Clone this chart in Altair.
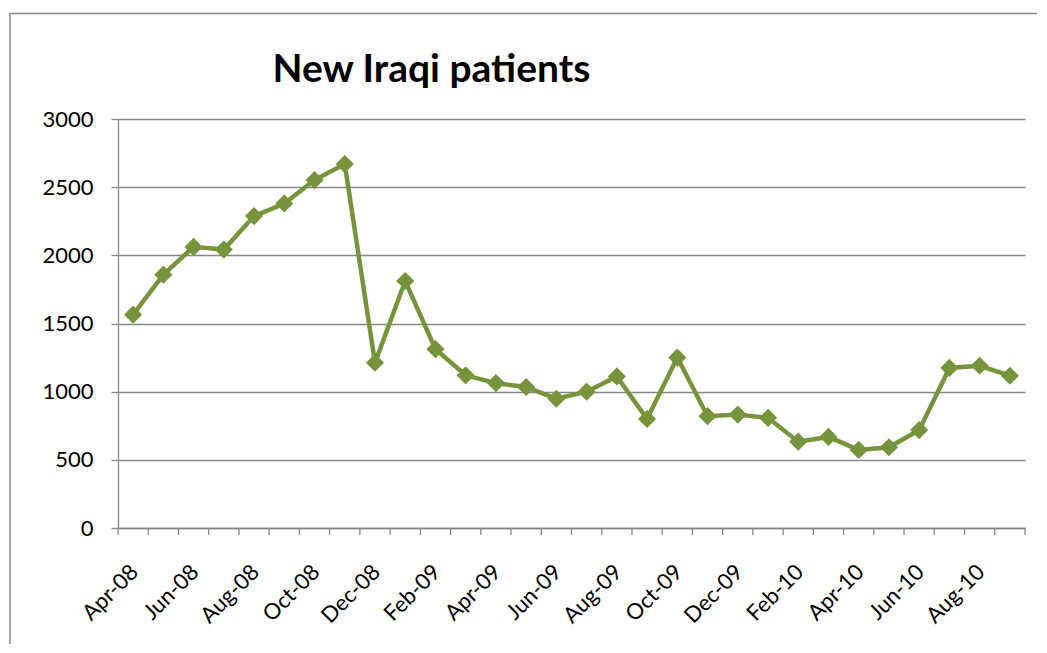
import json
import altair as alt
import pandas as pd

months = ["Apr-08", "May-08", "Jun-08", "Jul-08", "Aug-08", "Sep-08", "Oct-08", "Nov-08",
          "Dec-08", "Jan-09", "Feb-09", "Mar-09", "Apr-09", "May-09", "Jun-09", "Jul-09",
          "Aug-09", "Sep-09", "Oct-09", "Nov-09", "Dec-09", "Jan-10", "Feb-10", "Mar-10",
          "Apr-10", "May-10", "Jun-10", "Jul-10", "Aug-10", "Sep-10"]
patients = [1565, 1858, 2062, 2042, 2288, 2380, 2552, 2670, 1212, 1812, 1312, 1120, 1063,
            1034, 948, 1000, 1112, 800, 1250, 820, 832, 808, 633, 668, 573, 592, 718, 1174,
            1190, 1117]
y_ticks = [0, 500, 1000, 1500, 2000, 2500, 3000]
title_text = ["New Iraqi patients"]

n = len(months)
df = pd.DataFrame({"idx": list(range(n)), "month": months, "patients": patients})
bounds_df = pd.DataFrame({"b": [i - 0.5 for i in range(n + 1)]})

W, H = 907, 409
GREEN = "#77933C"
GRAY = "#868686"
FONT = "Lato"

month_js = json.dumps(months)
label_expr = (
    f"(datum.value + 0.5) < {n} && ((datum.value + 0.5) % 2) == 0 ? "
    f"{month_js}[datum.value + 0.5] : ''"
)
x_scale = alt.Scale(domain=[-0.5, n - 0.5], nice=False, zero=False)

x_enc = alt.X(
    "idx:Q",
    scale=x_scale,
    axis=alt.Axis(
        values=[i - 0.5 for i in range(n + 1)],
        labelExpr=label_expr,
        labelAngle=-45,
        labelAlign="right",
        labelBaseline="middle",
        labelOffset=W / n / 2 + 1,
        labelPadding=33,
        labelOverlap=False,
        labelBound=False,
        labelFlush=False,
        labelFont=FONT,
        labelFontSize=22,
        labelColor="black",
        tickSize=7,
        tickOpacity=0,
        domainColor=GRAY,
        domainWidth=1.3,
        grid=False,
        title=None,
    ),
)
y_enc = alt.Y(
    "patients:Q",
    scale=alt.Scale(domain=[0, 3000], nice=False),
    axis=alt.Axis(
        values=y_ticks,
        format="d",
        labelFont=FONT,
        labelFontSize=22,
        labelColor="black",
        labelPadding=18,
        tickSize=7,
        tickColor=GRAY,
        tickWidth=1.3,
        domainColor=GRAY,
        domainWidth=1.3,
        grid=True,
        gridColor=GRAY,
        gridWidth=1.3,
        title=None,
    ),
)

base = alt.Chart(df)
line = base.mark_line(color=GREEN, strokeWidth=4.5).encode(x=x_enc, y=y_enc)
points = base.mark_point(shape="diamond", filled=True, color=GREEN, size=330, opacity=1).encode(
    x="idx:Q", y="patients:Q"
)

xticks = alt.Chart(bounds_df).mark_rule(color=GRAY, strokeWidth=1.3, clip=False).encode(
    x=alt.X("b:Q"),
    y=alt.value(H),
    y2=alt.value(H + 7),
)

border = alt.Chart(pd.DataFrame({"a": [0]})).mark_rect(
    fillOpacity=0, stroke=GRAY, strokeWidth=1.5, clip=False
).encode(
    x=alt.value(-108), x2=alt.value(2000), y=alt.value(-105.5), y2=alt.value(2000)
)

title = alt.Chart(pd.DataFrame({"t": title_text})).mark_text(
    font=FONT, fontSize=39, fontWeight="bold", color="black",
    align="center", baseline="alphabetic", clip=False
).encode(text="t:N", x=alt.value(313.5), y=alt.value(-37))

chart = (
    alt.layer(line, xticks, points, border, title)
    .properties(
        width=W,
        height=H,
        padding={"left": 110, "top": 111, "right": 12, "bottom": 116},
        autosize=alt.AutoSizeParams(type="none"),
        background="white",
    )
    .configure_view(strokeOpacity=0)
)

chart.save("out.html", embed_options={"renderer": "svg", "actions": False})
